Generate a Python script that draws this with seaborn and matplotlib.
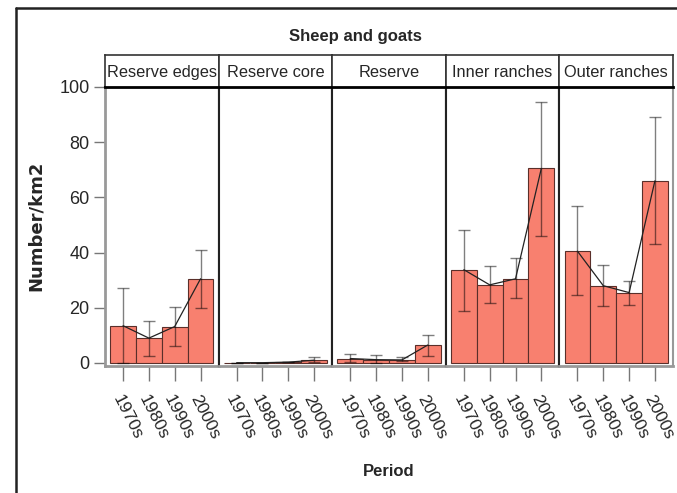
import numpy as np
import pandas as pd
import matplotlib
matplotlib.use("Agg")
import matplotlib.pyplot as plt
from matplotlib.lines import Line2D
import seaborn as sns

regions = ["Reserve edges", "Reserve core", "Reserve", "Inner ranches", "Outer ranches"]
periods = ["1970s", "1980s", "1990s", "2000s"]

mean_edges = [13.5, 9.0, 13.2, 30.5]
mean_core = [0.1, 0.1, 0.3, 1.0]
mean_reserve = [1.6, 1.2, 1.1, 6.5]
mean_inner = [33.8, 28.3, 30.5, 70.5]
mean_outer = [40.5, 28.0, 25.5, 66.0]

low_edges = [0.0, 2.5, 6.0, 19.8]
low_core = [0.1, 0.1, 0.3, 0.2]
low_reserve = [0.2, 0.0, 0.6, 2.4]
low_inner = [19.0, 21.7, 23.6, 46.0]
low_outer = [24.5, 20.7, 21.0, 43.0]

high_edges = [27.3, 15.3, 20.2, 41.0]
high_core = [0.1, 0.1, 0.5, 2.0]
high_reserve = [3.1, 2.9, 2.1, 10.3]
high_inner = [48.3, 35.0, 38.0, 94.6]
high_outer = [57.0, 35.5, 29.8, 89.0]

means = [mean_edges, mean_core, mean_reserve, mean_inner, mean_outer]
lows = [low_edges, low_core, low_reserve, low_inner, low_outer]
highs = [high_edges, high_core, high_reserve, high_inner, high_outer]

rows = []
for r, m, lo, hi in zip(regions, means, lows, highs):
    for p, a, b, c in zip(periods, m, lo, hi):
        rows.append(dict(region=r, period=p, mean=a, low=b, high=c))
df = pd.DataFrame(rows)

sns.set_style("white")
plt.rcParams["font.family"] = ["Liberation Sans", "DejaVu Sans"]

W, H = 677, 493
fig = plt.figure(figsize=(W / 100, H / 100), dpi=100)

left_px, right_px = 105, 673
top_px, bot_px = 87, 366
strip_top_px = 55
pw = (right_px - left_px) / len(regions)

bar_color = "#F8806F"
for i, reg in enumerate(regions):
    x0 = (left_px + i * pw) / W
    ax = fig.add_axes([x0, 1 - bot_px / H, pw / W, (bot_px - top_px) / H])
    sub = df[df.region == reg]
    sns.barplot(data=sub, x="period", y="mean", order=periods, color=bar_color,
                width=1.0, errorbar=None, edgecolor="#5a2f2a", linewidth=0.8,
                saturation=1, ax=ax)
    pos = np.arange(len(periods))
    ax.errorbar(pos, sub["mean"].values,
                yerr=[sub["mean"].values - sub["low"].values,
                      sub["high"].values - sub["mean"].values],
                fmt="none", ecolor=(0, 0, 0, 0.5), elinewidth=1.0, capsize=4.5,
                capthick=1.0, zorder=5)
    ax.plot(pos, sub["mean"].values, color="#222222", lw=0.9, zorder=6)
    ax.set_xlim(-0.7, 3.7)
    ax.set_ylim(-1.1, 100)
    ax.set_xlabel("")
    ax.set_ylabel("")
    ax.set_xticks(pos)
    ax.set_xticklabels(periods, rotation=-63, ha="left", va="top",
                       rotation_mode="anchor", fontsize=12.6)
    ax.tick_params(axis="x", direction="out", length=11, width=1.0,
                   color="#777777", pad=8, bottom=True)
    ax.set_yticks([0, 20, 40, 60, 80, 100])
    if i == 0:
        ax.tick_params(axis="y", direction="out", length=8, width=1.0,
                       color="#777777", pad=3, labelsize=13, left=True)
    else:
        ax.tick_params(axis="y", left=False, labelleft=False)
    for s in ["top", "right", "left", "bottom"]:
        ax.spines[s].set_visible(True)
    ax.spines["bottom"].set_color("#999999")
    ax.spines["bottom"].set_linewidth(2.0)
    ax.spines["top"].set_color("black")
    ax.spines["top"].set_linewidth(1.5)
    ax.spines["left"].set_color("#999999" if i == 0 else "#222222")
    ax.spines["left"].set_linewidth(2.0 if i == 0 else 1.5)
    ax.spines["right"].set_color("#222222" if i < len(regions) - 1 else "#999999")
    ax.spines["right"].set_linewidth(1.5)

    sax = fig.add_axes([x0, 1 - top_px / H, pw / W, (top_px - strip_top_px) / H])
    sax.set_xticks([])
    sax.set_yticks([])
    for s in sax.spines.values():
        s.set_visible(True)
        s.set_color("#333333")
        s.set_linewidth(1.2)
    sax.spines["bottom"].set_color("black")
    sax.spines["bottom"].set_linewidth(2.0)
    sax.text(0.5, 0.45, reg, ha="center", va="center", fontsize=11.8,
             transform=sax.transAxes)

fig.text(355 / W, 1 - 37 / H, "Sheep and goats", ha="center", va="center",
         fontsize=12, fontweight="bold")
fig.text(389 / W, 1 - 472 / H, "Period", ha="center", va="center",
         fontsize=12, fontweight="bold")
fig.text(36 / W, 1 - 226 / H, "Number/km2", ha="center", va="center",
         rotation=90, fontsize=13, fontweight="bold",
         family=["DejaVu Sans"])

# outer frame (top and left edges only, the rest is cut off)
fig.add_artist(Line2D([16 / W, 1.0], [1 - 8 / H, 1 - 8 / H],
                      transform=fig.transFigure, color="#222222", lw=1.8))
fig.add_artist(Line2D([16 / W, 16 / W], [0.0, 1 - 8 / H],
                      transform=fig.transFigure, color="#222222", lw=1.8))

fig.savefig("out.png", dpi=100)
